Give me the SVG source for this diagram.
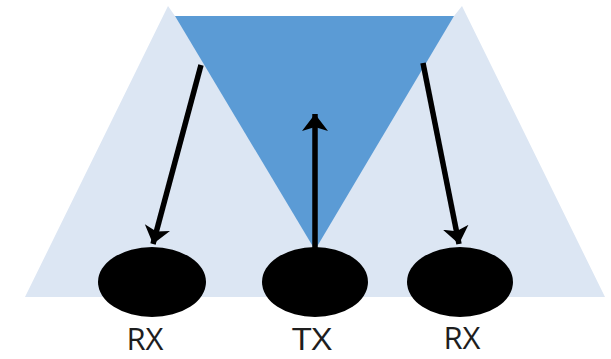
<svg xmlns="http://www.w3.org/2000/svg" width="611" height="359" viewBox="0 0 611 359">
<defs>
<style>
.light{fill:#dce6f3}
.dark{fill:#5b9bd5}
.node{fill:#000}
.conn{stroke:#000;stroke-width:5.5;fill:none;marker-end:url(#ah)}
.lbl{font-family:"Open Sans","Liberation Sans",sans-serif;font-size:31px;fill:#1e1e1e;text-anchor:middle}
</style>
<marker id="ah" markerUnits="userSpaceOnUse" markerWidth="30" markerHeight="30" viewBox="0 0 30 30" refX="17" refY="15" orient="auto">
<path d="M0,2 L17,15 L0,28 L4,15 Z" fill="#000"/>
</marker>
</defs>
<rect width="611" height="359" fill="#fff"/>
<g id="coverage">
<polygon class="light" points="168,6 25,297 605,297 462,6 454,16 175,16"/>
<polygon class="dark" points="175,16 454,16 315,250"/>
</g>
<g id="connectors">
<line class="conn" x1="201" y1="65" x2="153" y2="244"/>
<line class="conn" x1="315" y1="250" x2="315" y2="114"/>
<line class="conn" x1="423" y1="63" x2="459" y2="244"/>
</g>
<g id="rx-left">
<ellipse class="node" cx="152" cy="282" rx="54" ry="35"/>
<text class="lbl" x="145" y="350">RX</text>
</g>
<g id="tx">
<ellipse class="node" cx="315" cy="282" rx="53" ry="35"/>
<text class="lbl" x="312" y="350" textLength="40" lengthAdjust="spacingAndGlyphs">TX</text>
</g>
<g id="rx-right">
<ellipse class="node" cx="460" cy="282" rx="53" ry="35"/>
<text class="lbl" x="462" y="349">RX</text>
</g>
</svg>
